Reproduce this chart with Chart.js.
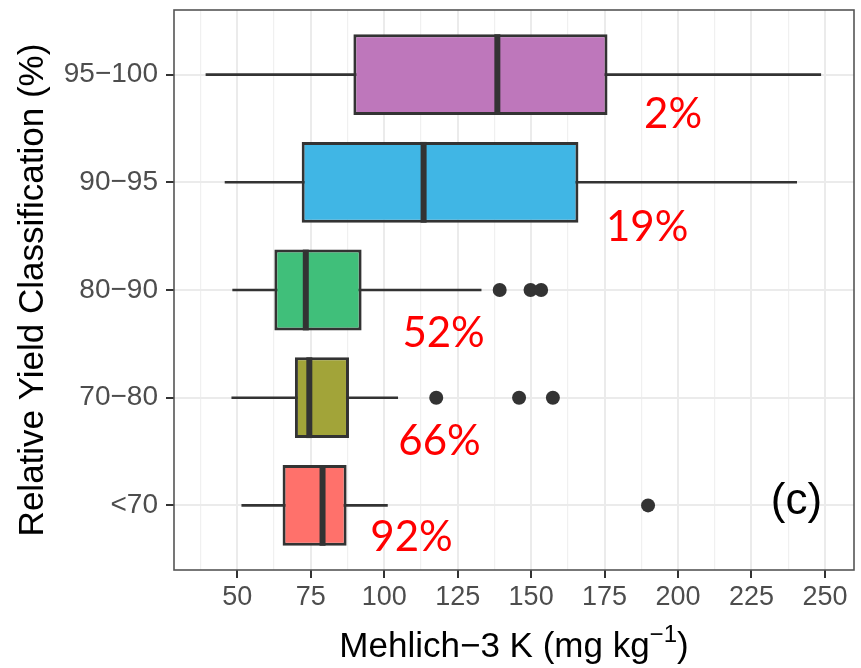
<!DOCTYPE html>
<html>
<head>
<meta charset="utf-8">
<script src="https://cdn.jsdelivr.net/npm/chart.js@4/dist/chart.umd.min.js"></script>
<style>
  body { margin: 0; background: #ffffff; }
  #wrap { width: 861px; height: 668px; }
</style>
</head>
<body>
<div id="wrap"><canvas id="k_chart"></canvas></div>
<script>
// categories from bottom (y = 1) to top (y = 5)
const categories = ['<70', '70\u221280', '80\u221290', '90\u221295', '95\u2212100'];

// box plot statistics, Mehlich-3 K (mg/kg)
const whisker_lo = [51.4, 48.0, 48.3, 45.7, 39.2];
const box_q1     = [65.4, 69.6, 62.6, 71.9, 89.5];
const box_median = [79.0, 74.5, 73.3, 113.4, 138.5];
const box_q3     = [87.2, 88.0, 92.3, 166.1, 176.0];
const whisker_hi = [101.2, 104.7, 133.1, 240.5, 248.7];

const outliers = [
    [189.8],
    [117.7, 145.9, 157.4],
    [139.3, 149.8, 153.4],
    [],
    []
];

// red percentage labels, placed in data units
const pct_labels = ['92%', '66%', '52%', '19%', '2%'];
const pct_x = [109.3, 118.8, 120.2, 189.5, 198.3];
const pct_y = [0.70, 1.59, 2.60, 3.58, 4.63];

const panel_tag = '(c)';
const panel_tag_x = 240.3;
const panel_tag_y = 1.03;

const x_title = 'Mehlich\u22123 K (mg kg';
const x_title_sup = '\u22121';
const x_title_end = ')';
const y_title = 'Relative Yield Classification (%)';

const x_major_ticks = [50, 75, 100, 125, 150, 175, 200, 225, 250];
const x_minor_ticks = [37.5, 62.5, 87.5, 112.5, 137.5, 162.5, 187.5, 212.5, 237.5];

const box_colors = ['#FF716B', '#A2A439', '#40BF7A', '#40B6E5', '#BE77BB'];

let datasets = [];

// whiskers (drawn first, behind the boxes)
for (let i = 0; i < categories.length; i++) {
    datasets.push({
        type: 'line',
        data: [{x: whisker_lo[i], y: i + 1}, {x: whisker_hi[i], y: i + 1}],
        borderColor: '#333333',
        borderWidth: 2.6,
        pointRadius: 0,
        order: 3
    });
}

// boxes q1..q3
datasets.push({
    type: 'bar',
    data: categories.map((c, i) => ({y: i + 1, x: [box_q1[i], box_q3[i]]})),
    backgroundColor: box_colors,
    borderColor: '#333333',
    borderWidth: 3,
    borderSkipped: false,
    categoryPercentage: 1,
    barPercentage: 0.75,
    order: 2
});

// medians
for (let i = 0; i < categories.length; i++) {
    datasets.push({
        type: 'line',
        data: [{x: box_median[i], y: i + 1 - 0.375}, {x: box_median[i], y: i + 1 + 0.375}],
        borderColor: '#333333',
        borderWidth: 6,
        borderCapStyle: 'butt',
        pointRadius: 0,
        order: 1
    });
}

// outliers
let outlier_points = [];
outliers.forEach((list, i) => {
    list.forEach((v) => outlier_points.push({x: v, y: i + 1}));
});
datasets.push({
    type: 'scatter',
    data: outlier_points,
    pointRadius: 7,
    pointBackgroundColor: '#333333',
    pointBorderWidth: 0,
    order: 0
});

const overlay_plugin = {
    id: 'overlay',
    afterDatasetsDraw(chart) {
        const ctx = chart.ctx;
        const xs = chart.scales.x;
        const ys = chart.scales.y;
        const a = chart.chartArea;
        ctx.save();
        ctx.fillStyle = '#FF0000';
        ctx.font = '42px Lato';
        ctx.textAlign = 'center';
        ctx.textBaseline = 'middle';
        for (let i = 0; i < pct_labels.length; i++) {
            ctx.fillText(pct_labels[i], xs.getPixelForValue(pct_x[i]), ys.getPixelForValue(pct_y[i]));
        }
        ctx.fillStyle = '#000000';
        ctx.font = '44px "Liberation Sans"';
        ctx.fillText(panel_tag, xs.getPixelForValue(panel_tag_x), ys.getPixelForValue(panel_tag_y));

        // panel border
        ctx.strokeStyle = '#555555';
        ctx.lineWidth = 1.6;
        ctx.strokeRect(a.left, a.top, a.right - a.left, a.bottom - a.top);

        // x axis title with superscript
        ctx.textAlign = 'left';
        ctx.textBaseline = 'alphabetic';
        ctx.font = '35px "Liberation Sans"';
        let w1 = ctx.measureText(x_title).width;
        let w3 = ctx.measureText(x_title_end).width;
        ctx.font = '24px "Liberation Sans"';
        let w2 = ctx.measureText(x_title_sup).width;
        let x0 = (a.left + a.right) / 2 - (w1 + w2 + w3) / 2;
        ctx.font = '35px "Liberation Sans"';
        ctx.fillText(x_title, x0, 657);
        ctx.fillText(x_title_end, x0 + w1 + w2, 657);
        ctx.font = '24px "Liberation Sans"';
        ctx.fillText(x_title_sup, x0 + w1, 642);

        // y axis title
        ctx.translate(43, (a.top + a.bottom) / 2);
        ctx.rotate(-Math.PI / 2);
        ctx.textAlign = 'center';
        ctx.font = '35px "Liberation Sans"';
        ctx.fillText(y_title, 0, 0);
        ctx.restore();
    }
};

function is_major(v) {
    return x_major_ticks.includes(v);
}

const config = {
    type: 'bar',
    data: {datasets: datasets},
    plugins: [overlay_plugin],
    options: {
        indexAxis: 'y',
        animation: false,
        responsive: true,
        maintainAspectRatio: false,
        layout: {padding: {top: 10, right: 3, left: 0, bottom: 0}},
        plugins: {
            legend: {display: false},
            tooltip: {enabled: false}
        },
        scales: {
            x: {
                type: 'linear',
                min: 28.44,
                max: 259.9,
                offset: false,
                border: {display: false},
                afterBuildTicks: (axis) => {
                    axis.ticks = x_major_ticks.concat(x_minor_ticks)
                        .sort((a, b) => a - b)
                        .map((v) => ({value: v}));
                },
                afterFit: (axis) => {
                    axis.height = 98;
                    axis.paddingLeft = 0;
                    axis.paddingRight = 0;
                },
                grid: {
                    offset: false,
                    color: (c) => (c.tick && is_major(c.tick.value)) ? '#EBEBEB' : '#F0F0F0',
                    lineWidth: (c) => (c.tick && is_major(c.tick.value)) ? 2 : 1.2,
                    tickColor: (c) => (c.tick && is_major(c.tick.value)) ? '#333333' : 'rgba(0,0,0,0)',
                    tickLength: 8,
                    tickWidth: 2
                },
                ticks: {
                    autoSkip: false,
                    maxRotation: 0,
                    padding: 3,
                    color: '#4D4D4D',
                    font: {family: '"Liberation Sans"', size: 27},
                    callback: (v) => is_major(v) ? String(v) : ''
                }
            },
            y: {
                type: 'linear',
                min: 0.4,
                max: 5.6,
                offset: false,
                border: {display: false},
                afterBuildTicks: (axis) => {
                    axis.ticks = categories.map((c, i) => ({value: i + 1}));
                },
                afterFit: (axis) => {
                    axis.width = 174;
                    axis.paddingTop = 0;
                    axis.paddingBottom = 0;
                },
                grid: {
                    offset: false,
                    color: '#EBEBEB',
                    lineWidth: 2,
                    tickColor: '#333333',
                    tickLength: 8,
                    tickWidth: 2
                },
                ticks: {
                    autoSkip: false,
                    padding: 8,
                    color: '#4D4D4D',
                    font: {family: '"Liberation Sans"', size: 28},
                    callback: (v) => categories[v - 1]
                }
            }
        }
    }
};

let chart = new Chart(document.getElementById('k_chart'), config);
</script>
</body>
</html>
